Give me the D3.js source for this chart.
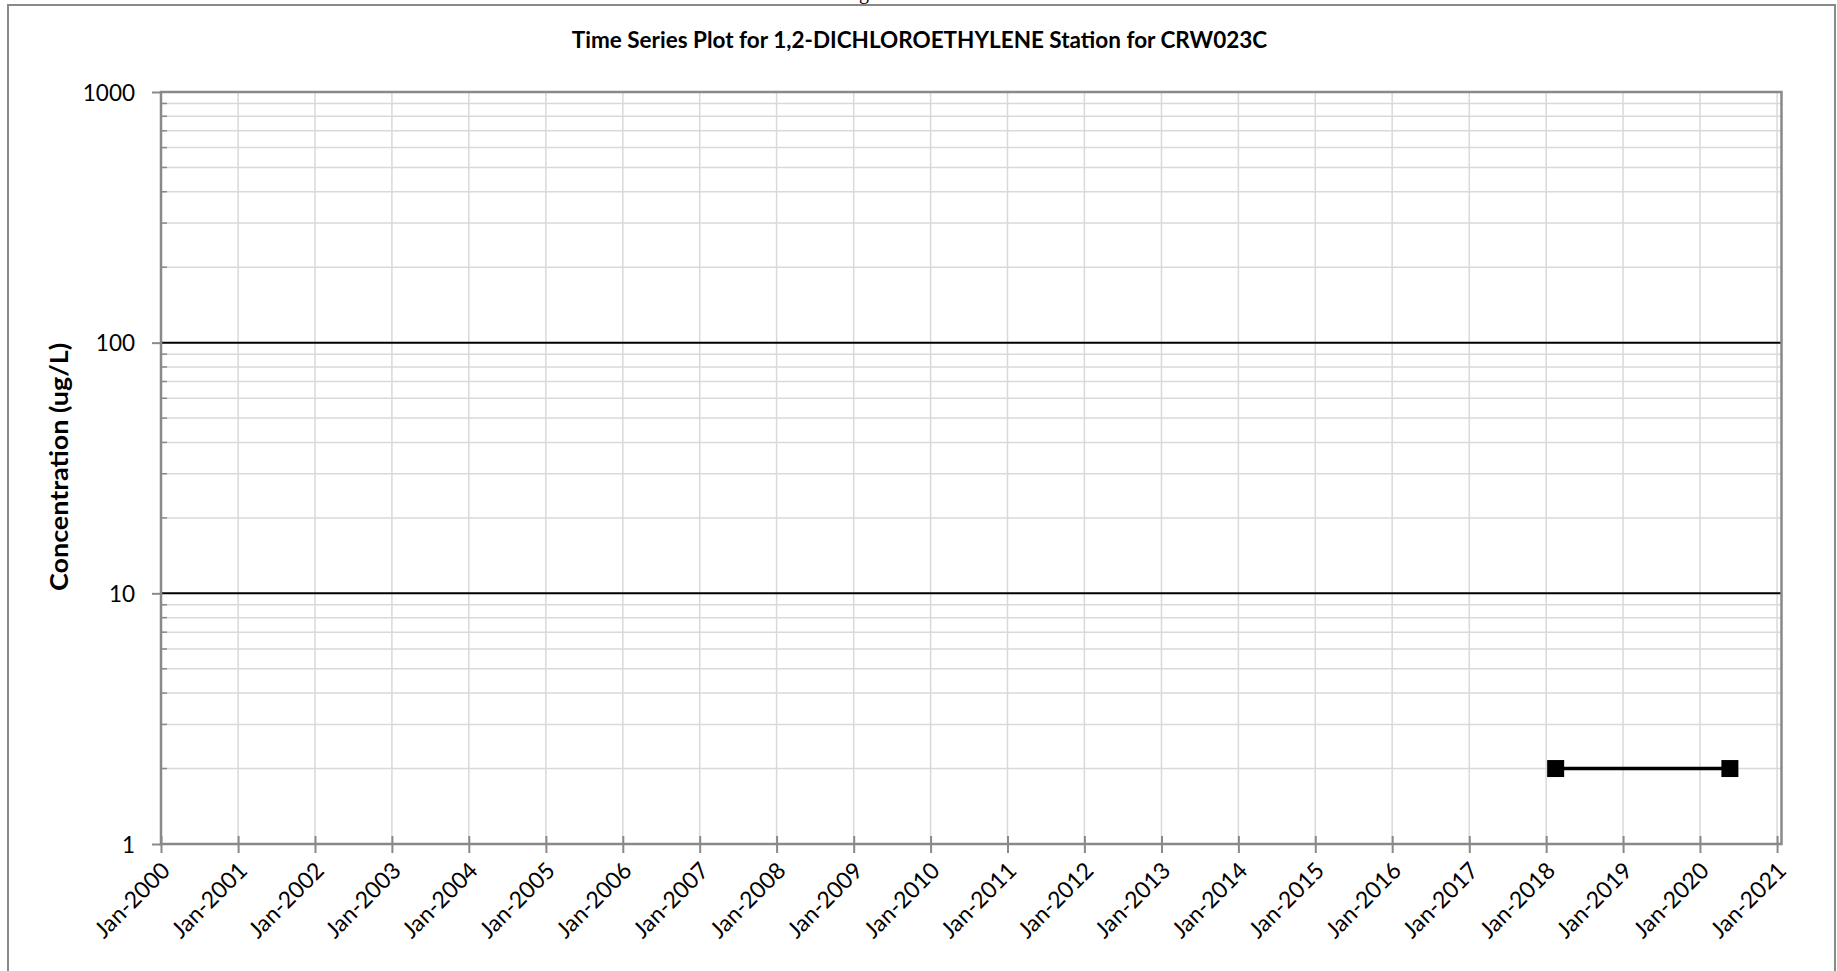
<!DOCTYPE html>
<html>
<head>
<meta charset="utf-8">
<script src="https://cdn.jsdelivr.net/npm/d3@7"></script>
<style>
  html, body { margin: 0; padding: 0; background: #fff; }
  svg { display: block; }
</style>
</head>
<body>
<svg id="chart" width="1837" height="971"></svg>
<script>
// ---- Data ----
const sampleDates = ["2018-02-15", "2020-05-22"];
const concentrations = [2, 2];
const yTickValues = [1, 10, 100, 1000];
const yTickLabels = ["1", "10", "100", "1000"];
const xTickDates = ["2000-01-01","2001-01-01","2002-01-01","2003-01-01","2004-01-01","2005-01-01",
  "2006-01-01","2007-01-01","2008-01-01","2009-01-01","2010-01-01","2011-01-01","2012-01-01",
  "2013-01-01","2014-01-01","2015-01-01","2016-01-01","2017-01-01","2018-01-01","2019-01-01",
  "2020-01-01","2021-01-01"];
const xTickLabels = ["Jan-2000","Jan-2001","Jan-2002","Jan-2003","Jan-2004","Jan-2005","Jan-2006",
  "Jan-2007","Jan-2008","Jan-2009","Jan-2010","Jan-2011","Jan-2012","Jan-2013","Jan-2014",
  "Jan-2015","Jan-2016","Jan-2017","Jan-2018","Jan-2019","Jan-2020","Jan-2021"];
const xDomain = ["2000-01-01", "2021-01-22"];
const titleText = "Time Series Plot for 1,2-DICHLOROETHYLENE Station for CRW023C";
const yAxisTitle = "Concentration (ug/L)";

// ---- Layout ----
const parse = d3.utcParse("%Y-%m-%d");
const L = 161, R = 1781.5, T = 92, B = 844;
const svg = d3.select("#chart");
const FONT = "Lato, 'Open Sans', sans-serif";
const axisGray = "#898989";
const gridGray = "#d9d9d9";

const x = d3.scaleUtc().domain(xDomain.map(parse)).range([L, R]);
const y = d3.scaleLog().domain([1, 1000]).range([B, T]);

// outer chart-area border
svg.append("rect").attr("x", 8).attr("y", 5).attr("width", 1827).attr("height", 1100)
  .attr("fill", "none").attr("stroke", axisGray).attr("stroke-width", 2);

// cut-off heading descender
svg.append("text").attr("x", 864).attr("y", -1.5).attr("text-anchor", "middle")
  .attr("font-family", "'Liberation Serif', serif").attr("font-size", 20).text("g");

// minor values
const minorVals = [];
for (let d = 1; d < 1000; d *= 10) for (let k = 2; k <= 9; k++) minorVals.push(d * k);

// minor horizontal gridlines
svg.append("g").selectAll("line").data(minorVals).join("line")
  .attr("x1", L).attr("x2", R).attr("y1", d => y(d)).attr("y2", d => y(d))
  .attr("stroke", gridGray).attr("stroke-width", 1.5);

// vertical gridlines
const xTicks = xTickDates.map(parse);
svg.append("g").selectAll("line").data(xTicks).join("line")
  .attr("x1", d => x(d)).attr("x2", d => x(d)).attr("y1", T).attr("y2", B)
  .attr("stroke", gridGray).attr("stroke-width", 1.5);

// major horizontal gridlines (10, 100)
svg.append("g").selectAll("line").data([10, 100]).join("line")
  .attr("x1", L).attr("x2", R).attr("y1", d => y(d)).attr("y2", d => y(d))
  .attr("stroke", "#000").attr("stroke-width", 2);

// minor y ticks (inside)
svg.append("g").selectAll("line").data(minorVals).join("line")
  .attr("x1", L).attr("x2", L + 6).attr("y1", d => y(d)).attr("y2", d => y(d))
  .attr("stroke", axisGray).attr("stroke-width", 1.5);

// Y axis via d3
const yAxis = d3.axisLeft(y).tickValues(yTickValues)
  .tickFormat((d, i) => yTickLabels[i]).tickSize(9).tickPadding(17);
const gy = svg.append("g").attr("transform", `translate(${L},0)`).call(yAxis);
gy.select(".domain").remove();
gy.selectAll(".tick line").attr("stroke", axisGray).attr("stroke-width", 2);
gy.selectAll(".tick text").attr("font-family", FONT).attr("font-size", 22.5)
  .attr("fill", "#000").attr("dy", "0.36em");

// X axis via d3 (cross ticks)
const xAxis = d3.axisBottom(x).tickValues(xTicks)
  .tickFormat((d, i) => xTickLabels[i]).tickSize(9).tickPadding(0);
const gx = svg.append("g").attr("transform", `translate(0,${B})`).call(xAxis);
gx.select(".domain").remove();
gx.selectAll(".tick line").attr("y1", -8).attr("y2", 9)
  .attr("stroke", axisGray).attr("stroke-width", 2);
gx.selectAll(".tick text")
  .attr("font-family", FONT).attr("font-size", 23).attr("fill", "#000")
  .attr("text-anchor", "end").attr("dy", null).attr("y", null)
  .attr("transform", "translate(10,28) rotate(-45)");

// plot frame
svg.append("rect").attr("x", L).attr("y", T).attr("width", R - L).attr("height", B - T)
  .attr("fill", "none").attr("stroke", axisGray).attr("stroke-width", 2.5);

// series
const pts = sampleDates.map((d, i) => ({ date: parse(d), v: concentrations[i] }));
svg.append("path").datum(pts)
  .attr("d", d3.line().x(d => x(d.date)).y(d => y(d.v)))
  .attr("fill", "none").attr("stroke", "#000").attr("stroke-width", 3.5);
const sym = d3.symbol().type(d3.symbolSquare).size(17 * 17);
svg.append("g").selectAll("path").data(pts).join("path")
  .attr("transform", d => `translate(${x(d.date)},${y(d.v)})`)
  .attr("d", sym).attr("fill", "#000");

// title
svg.append("text").attr("x", 919.5).attr("y", 48).attr("text-anchor", "middle")
  .attr("font-family", FONT).attr("font-weight", "bold").attr("font-size", 22.5)
  .attr("fill", "#000").text(titleText);

// y axis title
svg.append("text").attr("transform", `translate(68,467) rotate(-90)`)
  .attr("text-anchor", "middle").attr("font-family", FONT).attr("font-weight", "bold")
  .attr("font-size", 24).attr("textLength", 248).attr("lengthAdjust", "spacingAndGlyphs")
  .attr("fill", "#000").text(yAxisTitle);
</script>
</body>
</html>
